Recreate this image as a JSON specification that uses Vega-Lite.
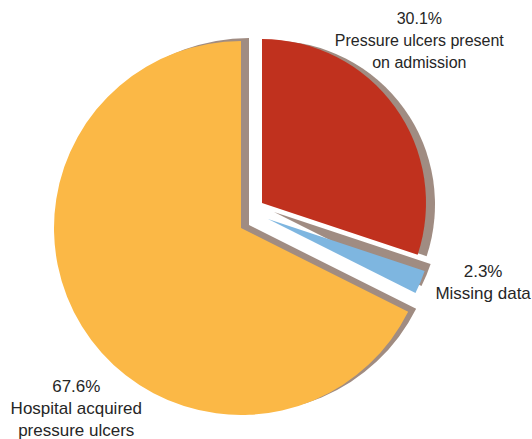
{
  "$schema": "https://vega.github.io/schema/vega-lite/v6.json",
  "width": 532,
  "height": 439,
  "autosize": "none",
  "padding": 0,
  "background": "white",
  "view": {"stroke": null},
  "config": {"text": {"font": "Liberation Sans", "fontSize": 17, "color": "#262626", "lineHeight": 22, "lineBreak": "\n", "baseline": "middle", "align": "center"}},
  "data": {"values": [
    {"cat": "Pressure ulcers present on admission", "pct": 30.1, "label": "30.1%\nPressure ulcers present\non admission"},
    {"cat": "Missing data", "pct": 2.3, "label": "2.3%\nMissing data"},
    {"cat": "Hospital acquired pressure ulcers", "pct": 67.6, "label": "67.6%\nHospital acquired\npressure ulcers"}
  ]},
  "encoding": {
    "theta": {"field": "pct", "type": "quantitative", "stack": true, "scale": {"domain": [0, 100]}},
    "order": {"field": "cat", "type": "ordinal", "sort": "descending"}
  },
  "layer": [
    {"mark": {"type": "arc", "radius": 187, "xOffset": -17, "yOffset": 5.5, "color": "#A08C82"},
     "encoding": {"opacity": {"condition": {"test": "datum.cat === 'Hospital acquired pressure ulcers'", "value": 1}, "value": 0}}},
    {"mark": {"type": "arc", "radius": 164, "xOffset": 5, "yOffset": -15, "color": "#A08C82"},
     "encoding": {"opacity": {"condition": {"test": "datum.cat === 'Pressure ulcers present on admission'", "value": 1}, "value": 0}}},
    {"mark": {"type": "arc", "radius": 165, "xOffset": 8, "yOffset": -7.5, "color": "#A08C82"},
     "encoding": {"opacity": {"condition": {"test": "datum.cat === 'Missing data'", "value": 1}, "value": 0}}},
    {"mark": {"type": "arc", "radius": 187, "xOffset": -25, "yOffset": 8.5, "color": "#FBB846"},
     "encoding": {"opacity": {"condition": {"test": "datum.cat === 'Hospital acquired pressure ulcers'", "value": 1}, "value": 0}}},
    {"mark": {"type": "arc", "radius": 164, "xOffset": -4, "yOffset": -16.5, "color": "#C0311E"},
     "encoding": {"opacity": {"condition": {"test": "datum.cat === 'Pressure ulcers present on admission'", "value": 1}, "value": 0}}},
    {"mark": {"type": "arc", "radius": 165, "xOffset": 2, "yOffset": -0.5, "color": "#7EB6E0"},
     "encoding": {"opacity": {"condition": {"test": "datum.cat === 'Missing data'", "value": 1}, "value": 0}}},
    {"mark": {"type": "text", "radius": 215, "dx": -21, "dy": -75, "fontSize": 16},
     "encoding": {"text": {"field": "label"}, "opacity": {"condition": {"test": "datum.cat === 'Pressure ulcers present on admission'", "value": 1}, "value": 0}}},
    {"mark": {"type": "text", "radius": 235, "dx": 0, "dy": -37},
     "encoding": {"text": {"field": "label"}, "opacity": {"condition": {"test": "datum.cat === 'Missing data'", "value": 1}, "value": 0}}},
    {"mark": {"type": "text", "radius": 230, "dx": 6, "dy": 46.5},
     "encoding": {"text": {"field": "label"}, "opacity": {"condition": {"test": "datum.cat === 'Hospital acquired pressure ulcers'", "value": 1}, "value": 0}}}
  ]
}
